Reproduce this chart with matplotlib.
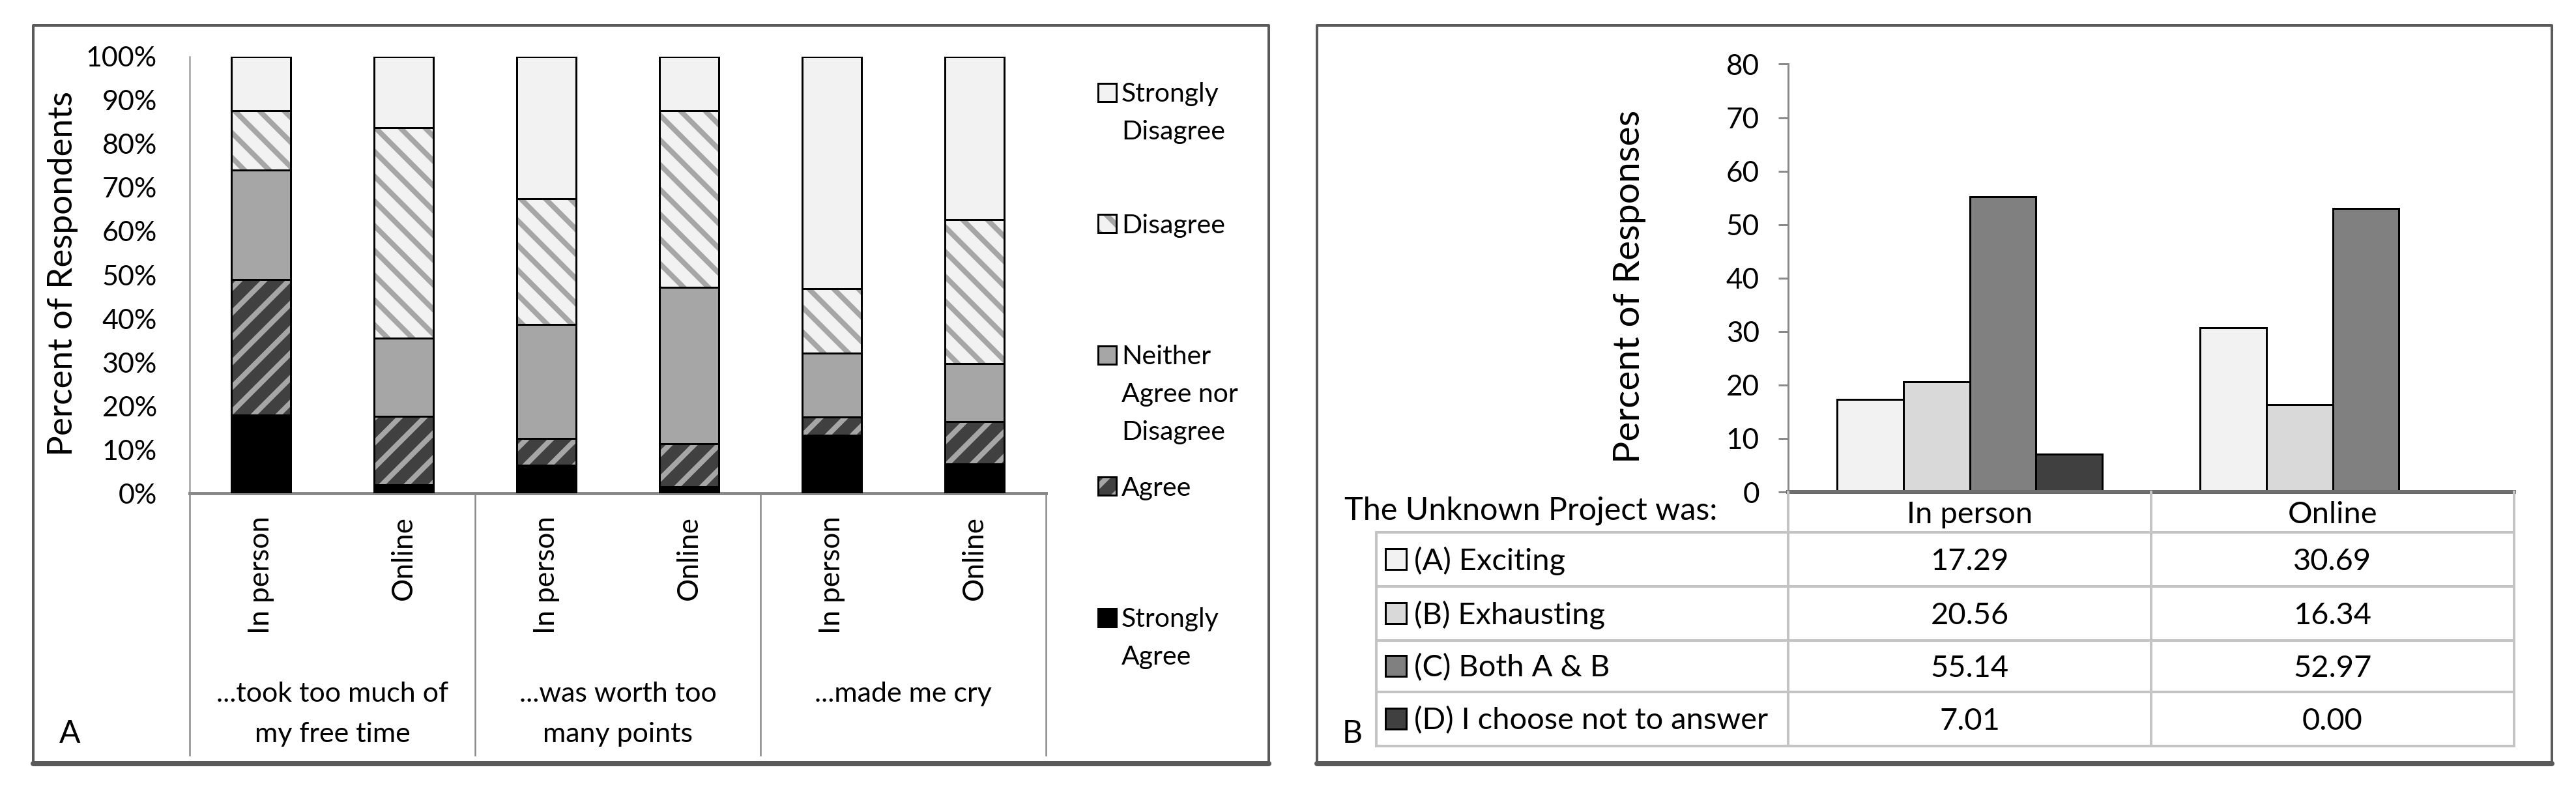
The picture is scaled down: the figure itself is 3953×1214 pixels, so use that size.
import matplotlib
matplotlib.use("Agg")
import matplotlib.pyplot as plt
from matplotlib.patches import Rectangle
from matplotlib.lines import Line2D
import numpy as np

# ---------------- data ----------------
statements = ["...took too much of\nmy free time", "...was worth too\nmany points", "...made me cry"]
modes = ["In person", "Online"]
likert_levels = ["Strongly Agree", "Agree", "Neither\nAgree nor\nDisagree", "Disagree", "Strongly\nDisagree"]
# bars in order: stmt1-In person, stmt1-Online, stmt2-In person, stmt2-Online, stmt3-In person, stmt3-Online
strongly_agree = [18.0, 2.0, 6.5, 1.5, 13.3, 6.8]
agree = [31.0, 15.6, 6.0, 9.9, 4.2, 9.7]
neither = [25.0, 17.9, 26.1, 35.7, 14.6, 13.2]
disagree = [13.6, 48.2, 28.9, 40.5, 14.8, 32.9]
strongly_disagree = [12.4, 16.3, 32.5, 12.4, 53.1, 37.4]
pct_ticks = [0, 10, 20, 30, 40, 50, 60, 70, 80, 90, 100]

b_categories = ["In person", "Online"]
b_series = ["(A) Exciting", "(B) Exhausting", "(C) Both A & B", "(D) I choose not to answer"]
exciting = [17.29, 30.69]
exhausting = [20.56, 16.34]
both = [55.14, 52.97]
no_answer = [7.01, 0.00]
b_ticks = [0, 10, 20, 30, 40, 50, 60, 70, 80]
table_title = "The Unknown Project was:"

# ---------------- setup ----------------
W, H = 3953, 1214
DPI = 228
PT = 72.0 / DPI  # points per pixel
plt.rcParams['font.family'] = ['Lato', 'DejaVu Sans']
plt.rcParams['hatch.linewidth'] = 8 * PT

fig = plt.figure(figsize=((W + 0.01) / DPI, (H + 0.01) / DPI), dpi=DPI)
fig.patch.set_facecolor('white')


def rect(x0, y0, x1, y1):
    return [x0 / W, 1 - y1 / H, (x1 - x0) / W, (y1 - y0) / H]


def fx(x):
    return x / W


def fy(y):
    return 1 - y / H


def fline(x0, y0, x1, y1, color, lw_px, **kw):
    fig.add_artist(Line2D([fx(x0), fx(x1)], [fy(y0), fy(y1)], transform=fig.transFigure,
                          color=color, lw=lw_px * PT, **kw))


def fsquare(x0, y0, size, fc, hatch=None, hc=None):
    if hatch:
        fig.add_artist(Rectangle((fx(x0), fy(y0 + size)), size / W, size / H, transform=fig.transFigure,
                                 facecolor=fc, edgecolor=hc, hatch=hatch, lw=0))
        fig.add_artist(Rectangle((fx(x0), fy(y0 + size)), size / W, size / H, transform=fig.transFigure,
                                 facecolor='none', edgecolor='black', lw=3 * PT))
    else:
        fig.add_artist(Rectangle((fx(x0), fy(y0 + size)), size / W, size / H, transform=fig.transFigure,
                                 facecolor=fc, edgecolor='black', lw=3 * PT))


# panel frames
for (x0, x1) in [(51, 1947), (2021, 3916)]:
    fig.add_artist(Rectangle((fx(x0), fy(1171)), (x1 - x0) / W, (1171 - 39) / H, transform=fig.transFigure,
                             facecolor='none', edgecolor='#5a5a5a', lw=4 * PT, joinstyle='round'))
    fline(x0, 1172, x1, 1172, '#5a5a5a', 8, solid_capstyle='round')

# ---------------- Panel A ----------------
A_top, A_bot = 86.7, 757.3
axA = fig.add_axes(rect(291, A_top, 1605, A_bot))
axA.set_xlim(-0.5, 5.5)
axA.set_ylim(0, 100)
for s in ['top', 'right']:
    axA.spines[s].set_visible(False)
axA.spines['left'].set_color('#a0a0a0')
axA.spines['left'].set_linewidth(2.5 * PT)
axA.spines['bottom'].set_color('#8a8a8a')
axA.spines['bottom'].set_linewidth(5 * PT)
axA.set_yticks(pct_ticks)
axA.set_yticklabels([f"{v}%" for v in pct_ticks])
axA.tick_params(axis='y', length=0, pad=50 * PT, labelsize=43 * PT)
axA.set_xticks([])


def ya(y):
    return (A_bot - y) / (A_bot - A_top)


x = np.arange(6)
bw = 0.42
layers = [
    (strongly_agree, '#000000', None, None),
    (agree, '#404040', '//', '#a6a6a6'),
    (neither, '#a6a6a6', None, None),
    (disagree, '#f2f2f2', '\\\\', '#a6a6a6'),
    (strongly_disagree, '#f2f2f2', None, None),
]
bottom = np.zeros(6)
for vals, fc, hatch, hc in layers:
    vals = np.array(vals)
    if hatch:
        axA.bar(x, vals, bw, bottom=bottom, color=fc, edgecolor=hc, hatch=hatch, lw=0, zorder=2)
        axA.bar(x, vals, bw, bottom=bottom, facecolor='none', edgecolor='black', lw=3 * PT, zorder=3)
    else:
        axA.bar(x, vals, bw, bottom=bottom, color=fc, edgecolor='black', lw=3 * PT, zorder=3)
    bottom = bottom + vals

xt = axA.get_xaxis_transform()
for i in range(6):
    axA.text(i, ya(792), modes[i % 2], transform=xt, rotation=90, ha='center', va='top',
             fontsize=44 * PT, clip_on=False)
for xd in [-0.5, 1.5, 3.5, 5.5]:
    axA.plot([xd, xd], [0, ya(1159)], transform=xt, clip_on=False, color='#8a8a8a', lw=2.5 * PT)
for g, st in enumerate(statements):
    for k, line in enumerate(st.split("\n")):
        axA.text(2 * g + 0.5, ya(1077 + 62 * k), line, transform=xt, ha='center', va='baseline',
                 fontsize=43 * PT, clip_on=False)

fig.text(fx(96), fy(420), "Percent of Respondents", rotation=90, ha='center', va='center',
         fontsize=53 * PT)
fig.text(fx(107), fy(1140), "A", ha='center', va='baseline', fontsize=48 * PT)

# legend (top to bottom)
leg_items = [
    (likert_levels[4], '#f2f2f2', None, None),
    (likert_levels[3], '#f2f2f2', '\\\\', '#a6a6a6'),
    (likert_levels[2], '#a6a6a6', None, None),
    (likert_levels[1], '#404040', '//', '#a6a6a6'),
    (likert_levels[0], '#000000', None, None),
]
for j, (lab, fc, hatch, hc) in enumerate(leg_items):
    top = 128 + 201.5 * j
    fsquare(1685, top, 28, fc, hatch, hc)
    lines = lab.split("\n") if "\n" in lab else lab.split(" ")
    for k, line in enumerate(lines):
        fig.text(fx(1721), fy(top + 28 + 58 * k), line, ha='left', va='baseline', fontsize=41 * PT)

# ---------------- Panel B ----------------
B_top, B_bot = 98.5, 755
axB = fig.add_axes(rect(2744, B_top, 3858, B_bot))
axB.set_xlim(-0.5, 1.5)
axB.set_ylim(0, 80)
for s in ['top', 'right']:
    axB.spines[s].set_visible(False)
axB.spines['left'].set_color('#8a8a8a')
axB.spines['left'].set_linewidth(3 * PT)
axB.spines['bottom'].set_color('#6e6e6e')
axB.spines['bottom'].set_linewidth(6 * PT)
axB.spines['bottom'].set_zorder(5)
axB.set_yticks(b_ticks)
axB.tick_params(axis='y', length=15 * PT, width=3 * PT, color='#8a8a8a', pad=29 * PT,
                labelsize=44 * PT)
axB.set_xticks([])

series_vals = [exciting, exhausting, both, no_answer]
series_cols = ['#f2f2f2', '#d9d9d9', '#808080', '#404040']
bwB = 0.183
xb = np.arange(len(b_categories))
for i, (vals, col) in enumerate(zip(series_vals, series_cols)):
    axB.bar(xb + (i - 1.5) * bwB, vals, bwB, color=col, edgecolor='black', lw=3 * PT, zorder=3)


def yb(y):
    return (B_bot - y) / (B_bot - B_top)


xtB = axB.get_xaxis_transform()
fig.text(fx(2500), fy(440), "Percent of Responses", rotation=90, ha='center', va='center',
         fontsize=57 * PT)

# table
row_edges = [817, 900, 983, 1062, 1145]
tcol = '#c4c4c4'
for y in row_edges:
    fline(2112, y, 3858, y, tcol, 4)
fline(2112, 817, 2112, 1145, tcol, 4)
for xv in [2744, 3301, 3858]:
    fline(xv, 755, xv, 1145, tcol, 4)

TFS = 47 * PT
for j, cat in enumerate(b_categories):
    axB.text(j, yb(803), cat, transform=xtB, ha='center', va='baseline', fontsize=TFS,
             clip_on=False)
fig.text(fx(2063), fy(797), table_title, ha='left', va='baseline', fontsize=48.5 * PT)

for r, (name, vals, col) in enumerate(zip(b_series, series_vals, series_cols)):
    yc = (row_edges[r] + row_edges[r + 1]) / 2
    fsquare(2126, yc - 16, 32, col)
    fig.text(fx(2170), fy(yc + 16), name, ha='left', va='baseline', fontsize=TFS)
    for j, v in enumerate(vals):
        axB.text(j, yb(yc + 16), f"{v:.2f}", transform=xtB, ha='center', va='baseline',
                 fontsize=TFS, clip_on=False)

fig.text(fx(2075), fy(1140), "B", ha='center', va='baseline', fontsize=48 * PT)

fig.savefig("out.png", dpi=DPI, facecolor='white')
